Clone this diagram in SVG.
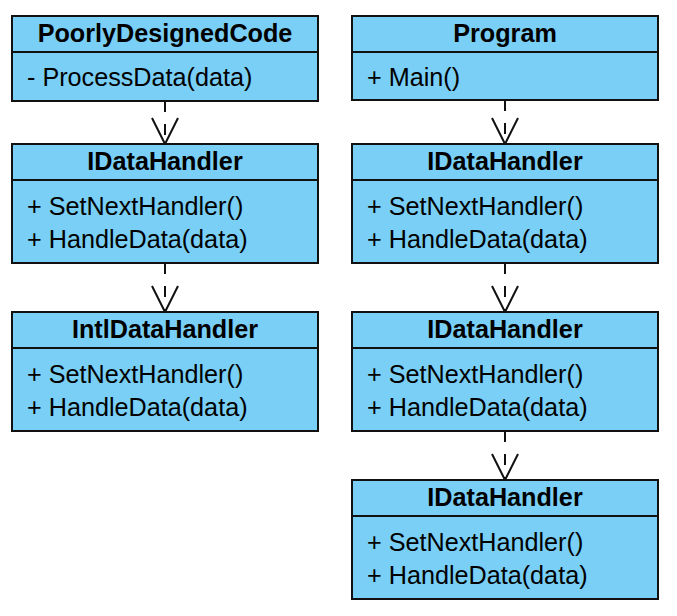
<svg xmlns="http://www.w3.org/2000/svg" width="677" height="616" viewBox="0 0 677 616">
<style>
.box{fill:#79cff5;stroke:#111;stroke-width:2}
.div{stroke:#111;stroke-width:2}
.t{font-family:"Liberation Sans",Arial,sans-serif;font-size:25.2px;font-weight:bold;fill:#000;text-anchor:middle}
.m{font-family:"Liberation Sans",Arial,sans-serif;font-size:25.2px;fill:#000}
.dash{stroke:#111;stroke-width:2;stroke-dasharray:11 12;fill:none}
.head{stroke:#111;stroke-width:2;fill:none}
</style>
<rect width="677" height="616" fill="#fff"/>
<g id="connectors">
<line class="dash" x1="165" y1="101" x2="165" y2="144"/>
<polyline class="head" points="152,118 165,144 178,118"/>
<line class="dash" x1="165" y1="263" x2="165" y2="312"/>
<polyline class="head" points="152,286 165,312 178,286"/>
<line class="dash" x1="505" y1="100" x2="505" y2="144"/>
<polyline class="head" points="492,118 505,144 518,118"/>
<line class="dash" x1="505" y1="263" x2="505" y2="312"/>
<polyline class="head" points="492,286 505,312 518,286"/>
<line class="dash" x1="505" y1="431" x2="505" y2="480"/>
<polyline class="head" points="492,454 505,480 518,454"/>
</g>
<g id="poorly">
<rect class="box" x="12" y="16" width="306" height="85"/>
<line class="div" x1="12" y1="52" x2="318" y2="52"/>
<text class="t" x="165" y="41.5">PoorlyDesignedCode</text>
<text class="m" x="27" y="86">- ProcessData(data)</text>
</g>
<g id="left-handler">
<rect class="box" x="12" y="144" width="306" height="119"/>
<line class="div" x1="12" y1="180" x2="318" y2="180"/>
<text class="t" x="165" y="169.5">IDataHandler</text>
<text class="m" x="27" y="214.5">+ SetNextHandler()</text>
<text class="m" x="27" y="247.5">+ HandleData(data)</text>
</g>
<g id="intl-handler">
<rect class="box" x="12" y="312" width="306" height="119"/>
<line class="div" x1="12" y1="348" x2="318" y2="348"/>
<text class="t" x="165" y="337.5">IntlDataHandler</text>
<text class="m" x="27" y="382.5">+ SetNextHandler()</text>
<text class="m" x="27" y="415.5">+ HandleData(data)</text>
</g>
<g id="program">
<rect class="box" x="352" y="16" width="306" height="84"/>
<line class="div" x1="352" y1="52" x2="658" y2="52"/>
<text class="t" x="505" y="41.5">Program</text>
<text class="m" x="367" y="86">+ Main()</text>
</g>
<g id="handler1">
<rect class="box" x="352" y="144" width="306" height="119"/>
<line class="div" x1="352" y1="180" x2="658" y2="180"/>
<text class="t" x="505" y="169.5">IDataHandler</text>
<text class="m" x="367" y="214.5">+ SetNextHandler()</text>
<text class="m" x="367" y="247.5">+ HandleData(data)</text>
</g>
<g id="handler2">
<rect class="box" x="352" y="312" width="306" height="119"/>
<line class="div" x1="352" y1="348" x2="658" y2="348"/>
<text class="t" x="505" y="337.5">IDataHandler</text>
<text class="m" x="367" y="382.5">+ SetNextHandler()</text>
<text class="m" x="367" y="415.5">+ HandleData(data)</text>
</g>
<g id="handler3">
<rect class="box" x="352" y="480" width="306" height="119"/>
<line class="div" x1="352" y1="516" x2="658" y2="516"/>
<text class="t" x="505" y="505.5">IDataHandler</text>
<text class="m" x="367" y="550.5">+ SetNextHandler()</text>
<text class="m" x="367" y="583.5">+ HandleData(data)</text>
</g>
</svg>
